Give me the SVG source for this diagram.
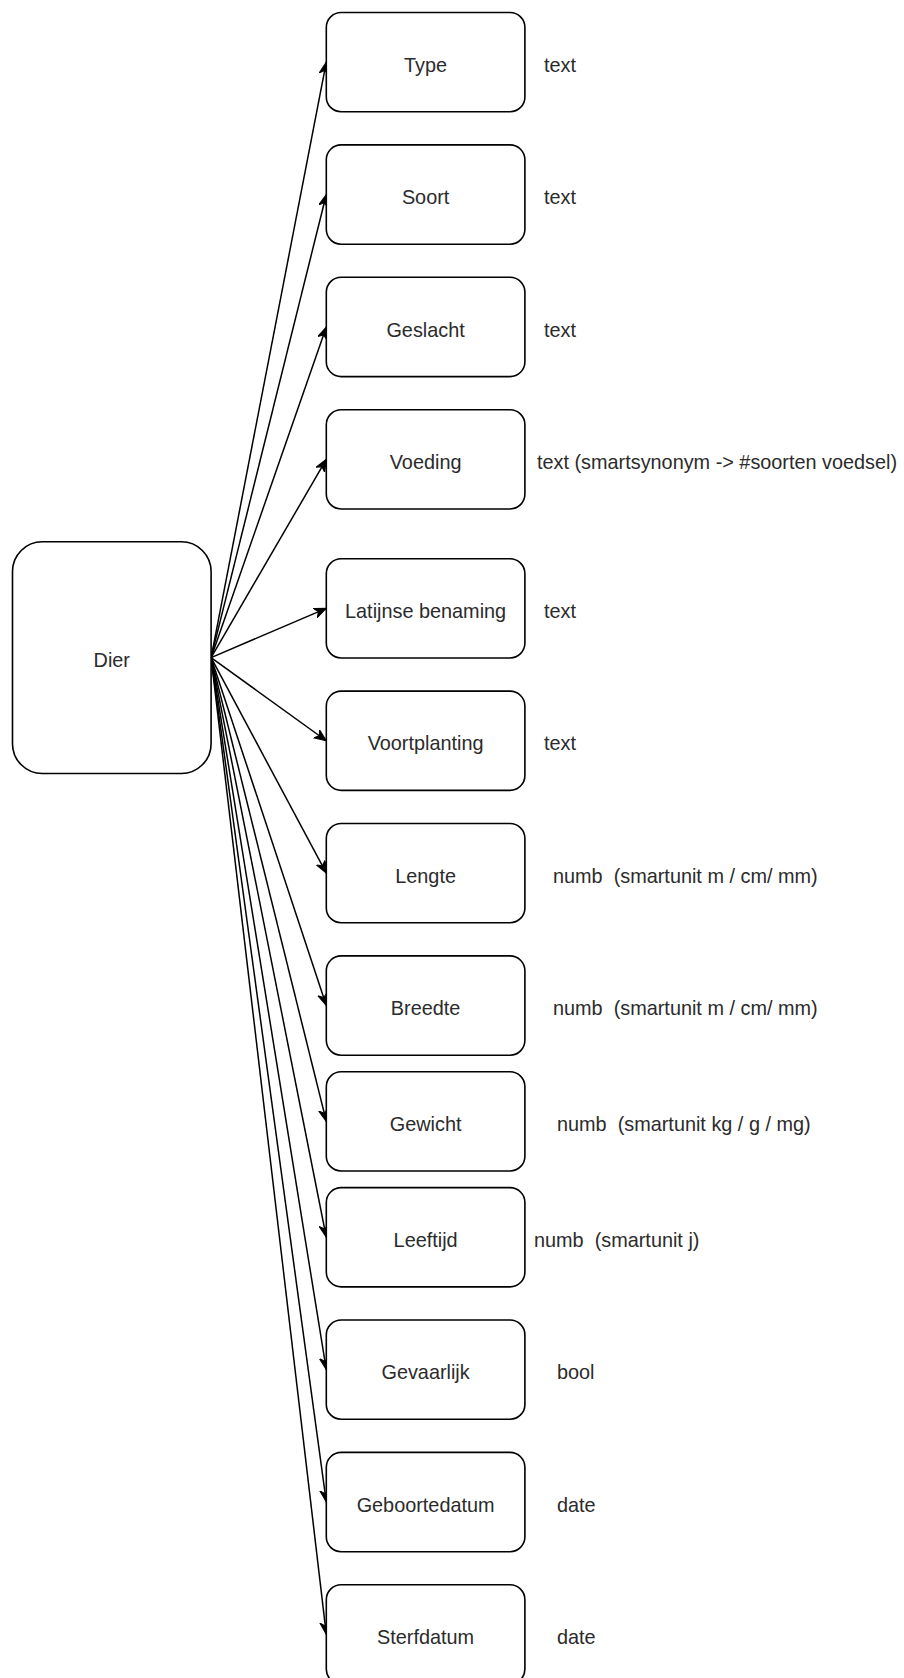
<svg xmlns="http://www.w3.org/2000/svg" width="904" height="1678" viewBox="0 0 904 1678">
  <style>
    .box { fill: #ffffff; stroke: #000000; stroke-width: 1.6; }
    .lbl { font-family: "Liberation Sans", Arial, Helvetica, sans-serif; font-size: 19.85px; fill: #2b2b2b; }
    .mid { text-anchor: middle; }
    .edge { fill: none; stroke: #000000; stroke-width: 1.5; marker-end: url(#arrow); }
  </style>
  <defs>
    <marker id="arrow" markerUnits="userSpaceOnUse" markerWidth="14" markerHeight="12" refX="12" refY="5" orient="auto">
      <path d="M0,0 L12,5 L0,10 L3.5,5 Z" fill="#000000" stroke="#000000" stroke-width="1"/>
    </marker>
  </defs>
  <rect width="904" height="1678" fill="#ffffff"/>

  <!-- connectors: Dier right side to each attribute -->
  <g id="connectors">
    <line class="edge" x1="211.1" y1="657.65" x2="326.3" y2="62.15"/>
    <line class="edge" x1="211.1" y1="657.65" x2="326.3" y2="194.55"/>
    <line class="edge" x1="211.1" y1="657.65" x2="326.3" y2="326.95"/>
    <line class="edge" x1="211.1" y1="657.65" x2="326.3" y2="459.35"/>
    <line class="edge" x1="211.1" y1="657.65" x2="326.3" y2="608.35"/>
    <line class="edge" x1="211.1" y1="657.65" x2="326.3" y2="740.75"/>
    <line class="edge" x1="211.1" y1="657.65" x2="326.3" y2="873.15"/>
    <line class="edge" x1="211.1" y1="657.65" x2="326.3" y2="1005.55"/>
    <line class="edge" x1="211.1" y1="657.65" x2="326.3" y2="1121.4"/>
    <line class="edge" x1="211.1" y1="657.65" x2="326.3" y2="1237.25"/>
    <line class="edge" x1="211.1" y1="657.65" x2="326.3" y2="1369.65"/>
    <line class="edge" x1="211.1" y1="657.65" x2="326.3" y2="1502.05"/>
    <line class="edge" x1="211.1" y1="657.65" x2="326.3" y2="1634.45"/>
  </g>

  <g id="dier">
    <rect class="box" x="12.5" y="541.8" width="198.6" height="231.7" rx="29.8"/>
    <text class="lbl mid" x="111.8" y="667.2">Dier</text>
  </g>

  <g id="type">
    <rect class="box" x="326.3" y="12.5" width="198.6" height="99.3" rx="14.9"/>
    <text class="lbl mid" x="425.6" y="71.7">Type</text>
    <text class="lbl" x="544" y="71.7">text</text>
  </g>
  <g id="soort">
    <rect class="box" x="326.3" y="144.9" width="198.6" height="99.3" rx="14.9"/>
    <text class="lbl mid" x="425.6" y="204.1">Soort</text>
    <text class="lbl" x="544" y="204.1">text</text>
  </g>
  <g id="geslacht">
    <rect class="box" x="326.3" y="277.3" width="198.6" height="99.3" rx="14.9"/>
    <text class="lbl mid" x="425.6" y="336.5">Geslacht</text>
    <text class="lbl" x="544" y="336.5">text</text>
  </g>
  <g id="voeding">
    <rect class="box" x="326.3" y="409.7" width="198.6" height="99.3" rx="14.9"/>
    <text class="lbl mid" x="425.6" y="468.9">Voeding</text>
    <text class="lbl" x="537" y="468.9">text (smartsynonym -&gt; #soorten voedsel)</text>
  </g>
  <g id="latijnse-benaming">
    <rect class="box" x="326.3" y="558.7" width="198.6" height="99.3" rx="14.9"/>
    <text class="lbl mid" x="425.6" y="617.9">Latijnse benaming</text>
    <text class="lbl" x="544" y="617.9">text</text>
  </g>
  <g id="voortplanting">
    <rect class="box" x="326.3" y="691.1" width="198.6" height="99.3" rx="14.9"/>
    <text class="lbl mid" x="425.6" y="750.3">Voortplanting</text>
    <text class="lbl" x="544" y="750.3">text</text>
  </g>
  <g id="lengte">
    <rect class="box" x="326.3" y="823.5" width="198.6" height="99.3" rx="14.9"/>
    <text class="lbl mid" x="425.6" y="882.7">Lengte</text>
    <text class="lbl" x="553" y="882.7" xml:space="preserve">numb  (smartunit m / cm/ mm)</text>
  </g>
  <g id="breedte">
    <rect class="box" x="326.3" y="955.9" width="198.6" height="99.3" rx="14.9"/>
    <text class="lbl mid" x="425.6" y="1015.1">Breedte</text>
    <text class="lbl" x="553" y="1015.1" xml:space="preserve">numb  (smartunit m / cm/ mm)</text>
  </g>
  <g id="gewicht">
    <rect class="box" x="326.3" y="1071.75" width="198.6" height="99.3" rx="14.9"/>
    <text class="lbl mid" x="425.6" y="1130.9">Gewicht</text>
    <text class="lbl" x="557" y="1130.9" xml:space="preserve">numb  (smartunit kg / g / mg)</text>
  </g>
  <g id="leeftijd">
    <rect class="box" x="326.3" y="1187.6" width="198.6" height="99.3" rx="14.9"/>
    <text class="lbl mid" x="425.6" y="1246.8">Leeftijd</text>
    <text class="lbl" x="534" y="1246.8" xml:space="preserve">numb  (smartunit j)</text>
  </g>
  <g id="gevaarlijk">
    <rect class="box" x="326.3" y="1320" width="198.6" height="99.3" rx="14.9"/>
    <text class="lbl mid" x="425.6" y="1379.2">Gevaarlijk</text>
    <text class="lbl" x="557" y="1379.2">bool</text>
  </g>
  <g id="geboortedatum">
    <rect class="box" x="326.3" y="1452.4" width="198.6" height="99.3" rx="14.9"/>
    <text class="lbl mid" x="425.6" y="1511.6">Geboortedatum</text>
    <text class="lbl" x="557" y="1511.6">date</text>
  </g>
  <g id="sterfdatum">
    <rect class="box" x="326.3" y="1584.8" width="198.6" height="99.3" rx="14.9"/>
    <text class="lbl mid" x="425.6" y="1644">Sterfdatum</text>
    <text class="lbl" x="557" y="1644">date</text>
  </g>
</svg>
